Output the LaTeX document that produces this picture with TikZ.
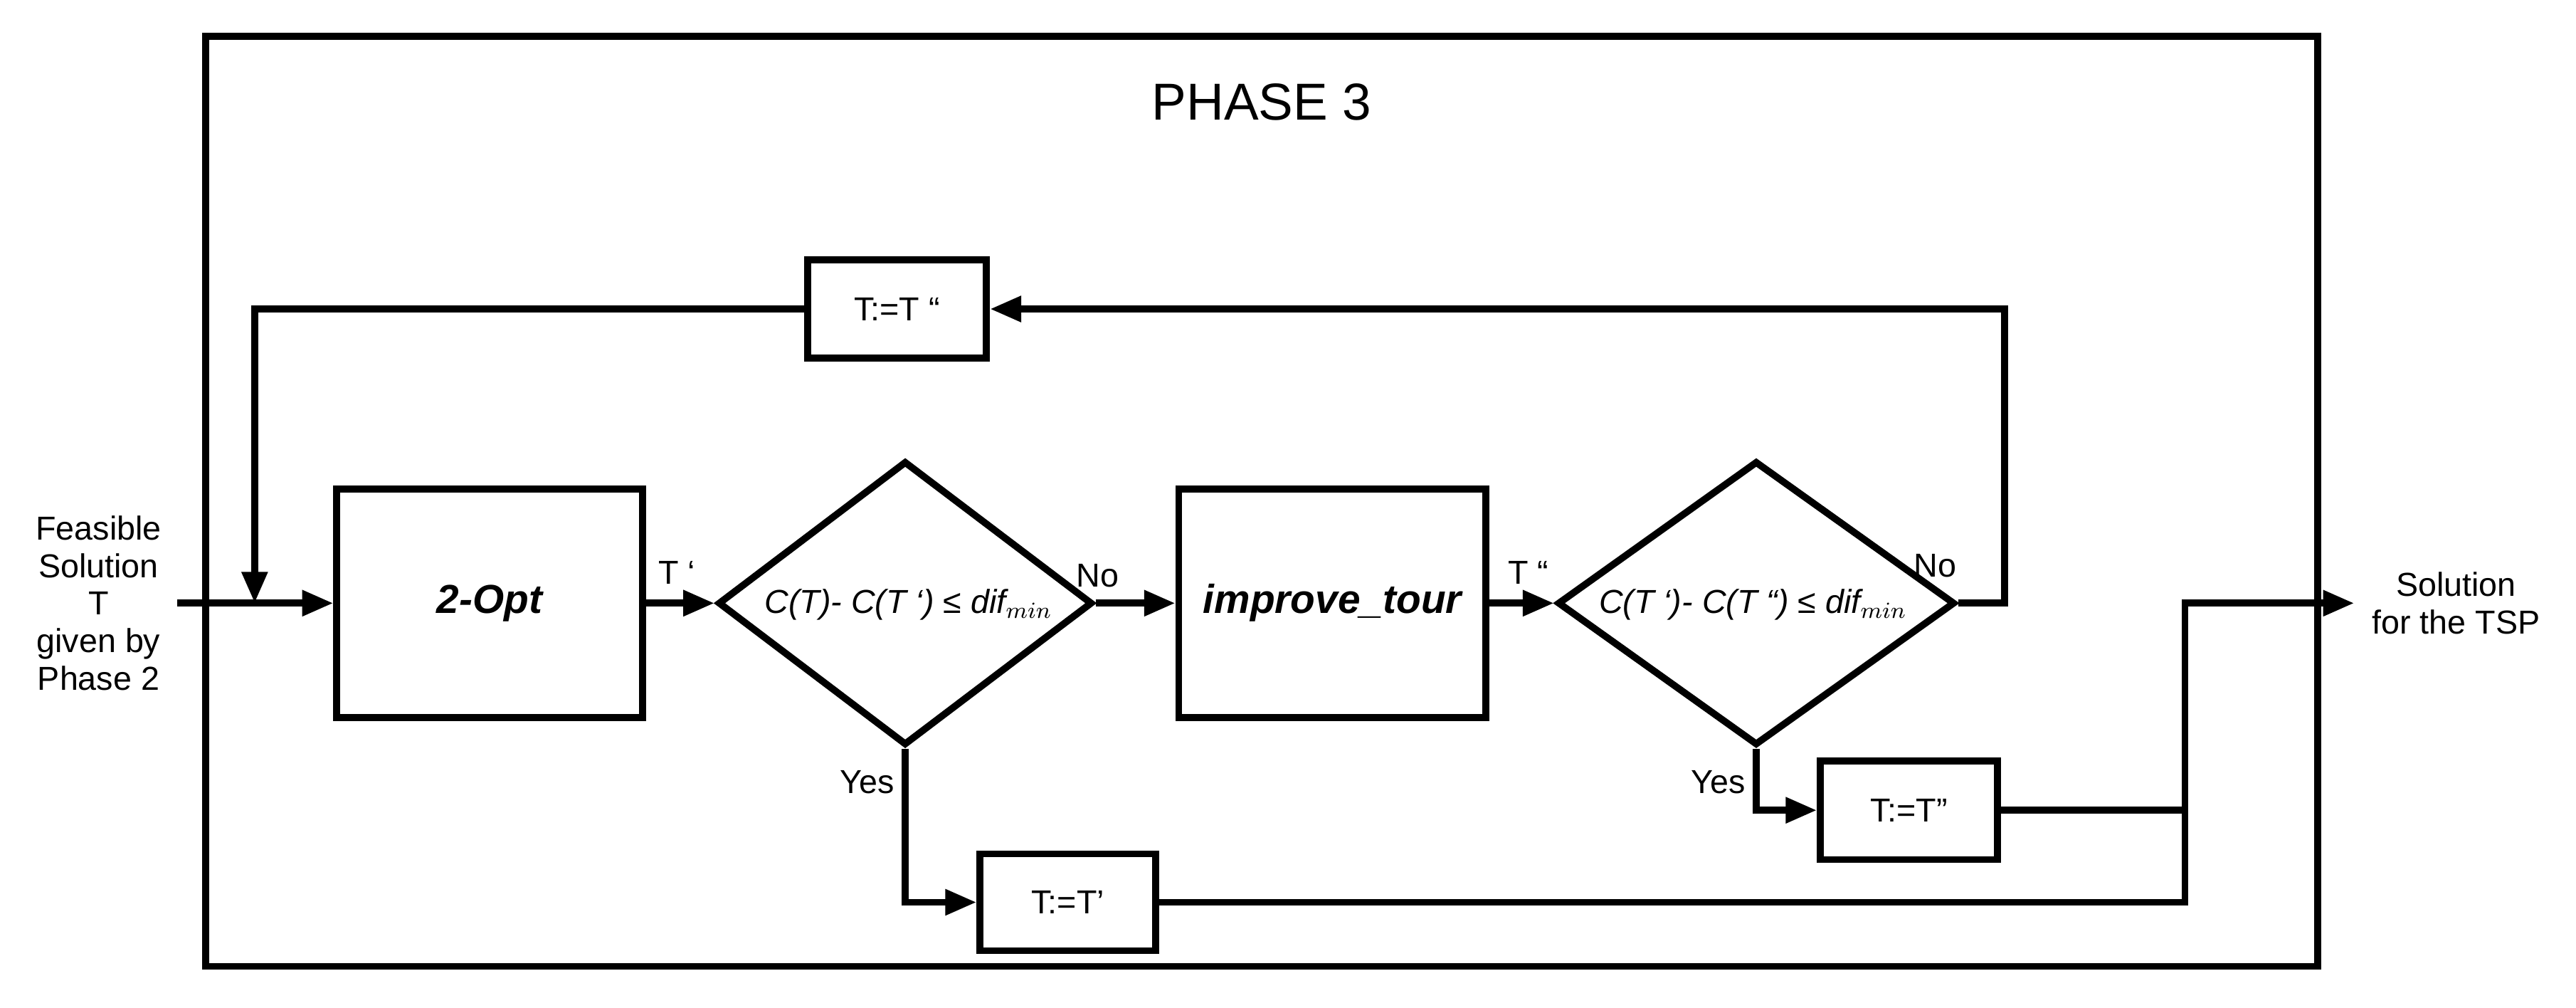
\documentclass[tikz,border=0pt]{standalone}
\usepackage{fontspec}
\setmainfont{Liberation Sans}
\usetikzlibrary{shapes.geometric,arrows.meta,positioning}
\tikzset{
  blk/.style={draw,line width=2.4pt,inner sep=0pt},
  dec/.style={draw,diamond,line width=2.4pt,inner sep=0pt,minimum width=4.56cm,minimum height=3.46cm},
  flow/.style={line width=2.4pt,-{Triangle[length=0.38cm,width=0.3cm]}},
  wire/.style={line width=2.4pt},
  lbl/.style={font=\fontsize{11.5}{13}\selectfont}
}
\begin{document}
\begin{tikzpicture}[x=0.02cm,y=-0.02cm]
\useasboundingbox (0,0) rectangle (1568,613);
\node[blk,minimum width=25.72cm,minimum height=11.32cm] (frame) at (768,305) {};
\node[font=\fontsize{18}{20}\selectfont] (title) at (768,62) {PHASE 3};

% boxes
\node[blk,minimum width=3.72cm,minimum height=2.78cm,font=\fontsize{14}{16}\selectfont\bfseries\itshape] (opt) at (298,367) {2-Opt};
\node[dec] (d1) at (551,367) {};
\node[lbl,font=\fontsize{11.5}{13}\selectfont\itshape] (d1t) at (553,368) {C(T)- C(T ‘) ≤ dif$_{min}$};
\node[blk,minimum width=3.74cm,minimum height=2.78cm,font=\fontsize{14}{16}\selectfont\bfseries\itshape] (imp) at (811,367) {improve\_tour};
\node[dec,minimum width=4.84cm] (d2) at (1069,367) {};
\node[lbl,font=\fontsize{11.5}{13}\selectfont\itshape] (d2t) at (1067,368) {C(T ‘)- C(T “) ≤ dif$_{min}$};
\node[blk,lbl,minimum width=2.18cm,minimum height=1.2cm] (upd) at (546,188) {T:=T “};
\node[blk,lbl,minimum width=2.16cm,minimum height=1.2cm] (t2) at (1162,493) {T:=T”};
\node[blk,lbl,minimum width=2.14cm,minimum height=1.18cm] (t1) at (650,549) {T:=T’};

% terminals
\node[lbl,align=center] (in) at (60,367) {Feasible\\Solution\\T\\given by\\Phase 2};
\node[lbl,align=center] (out) at (1495,367) {Solution\\for the TSP};
\coordinate (inend) at (108,367);
\coordinate (loopin) at (155,367);
\coordinate (outend) at (1433,367);

% flow
\draw[flow] (inend) -- (opt);
\draw[flow] (opt) -- (d1) node[lbl,pos=0.45,above=2pt] {T ‘};
\draw[flow] (d1) -- (imp) node[lbl,pos=0.02,above=1pt] {No};
\draw[flow] (imp) -- (d2) node[lbl,pos=0.6,above=2pt] {T “};
\draw[flow] (d2.east) -- ++(28,0) |- (upd.east);
\node[lbl] at (1178,344) {No};
\draw[flow] (upd.west) -| (loopin);
\draw[flow] (d1.south) |- (t1.west);
\node[lbl] at (528,476) {Yes};
\draw[flow] (d2.south) |- (t2.west);
\node[lbl] at (1046,476) {Yes};
\draw[wire] (t2.east) -- (1330,493);
\draw[flow] (t1.east) -| (1330,367) -- (outend);
\end{tikzpicture}
\end{document}
